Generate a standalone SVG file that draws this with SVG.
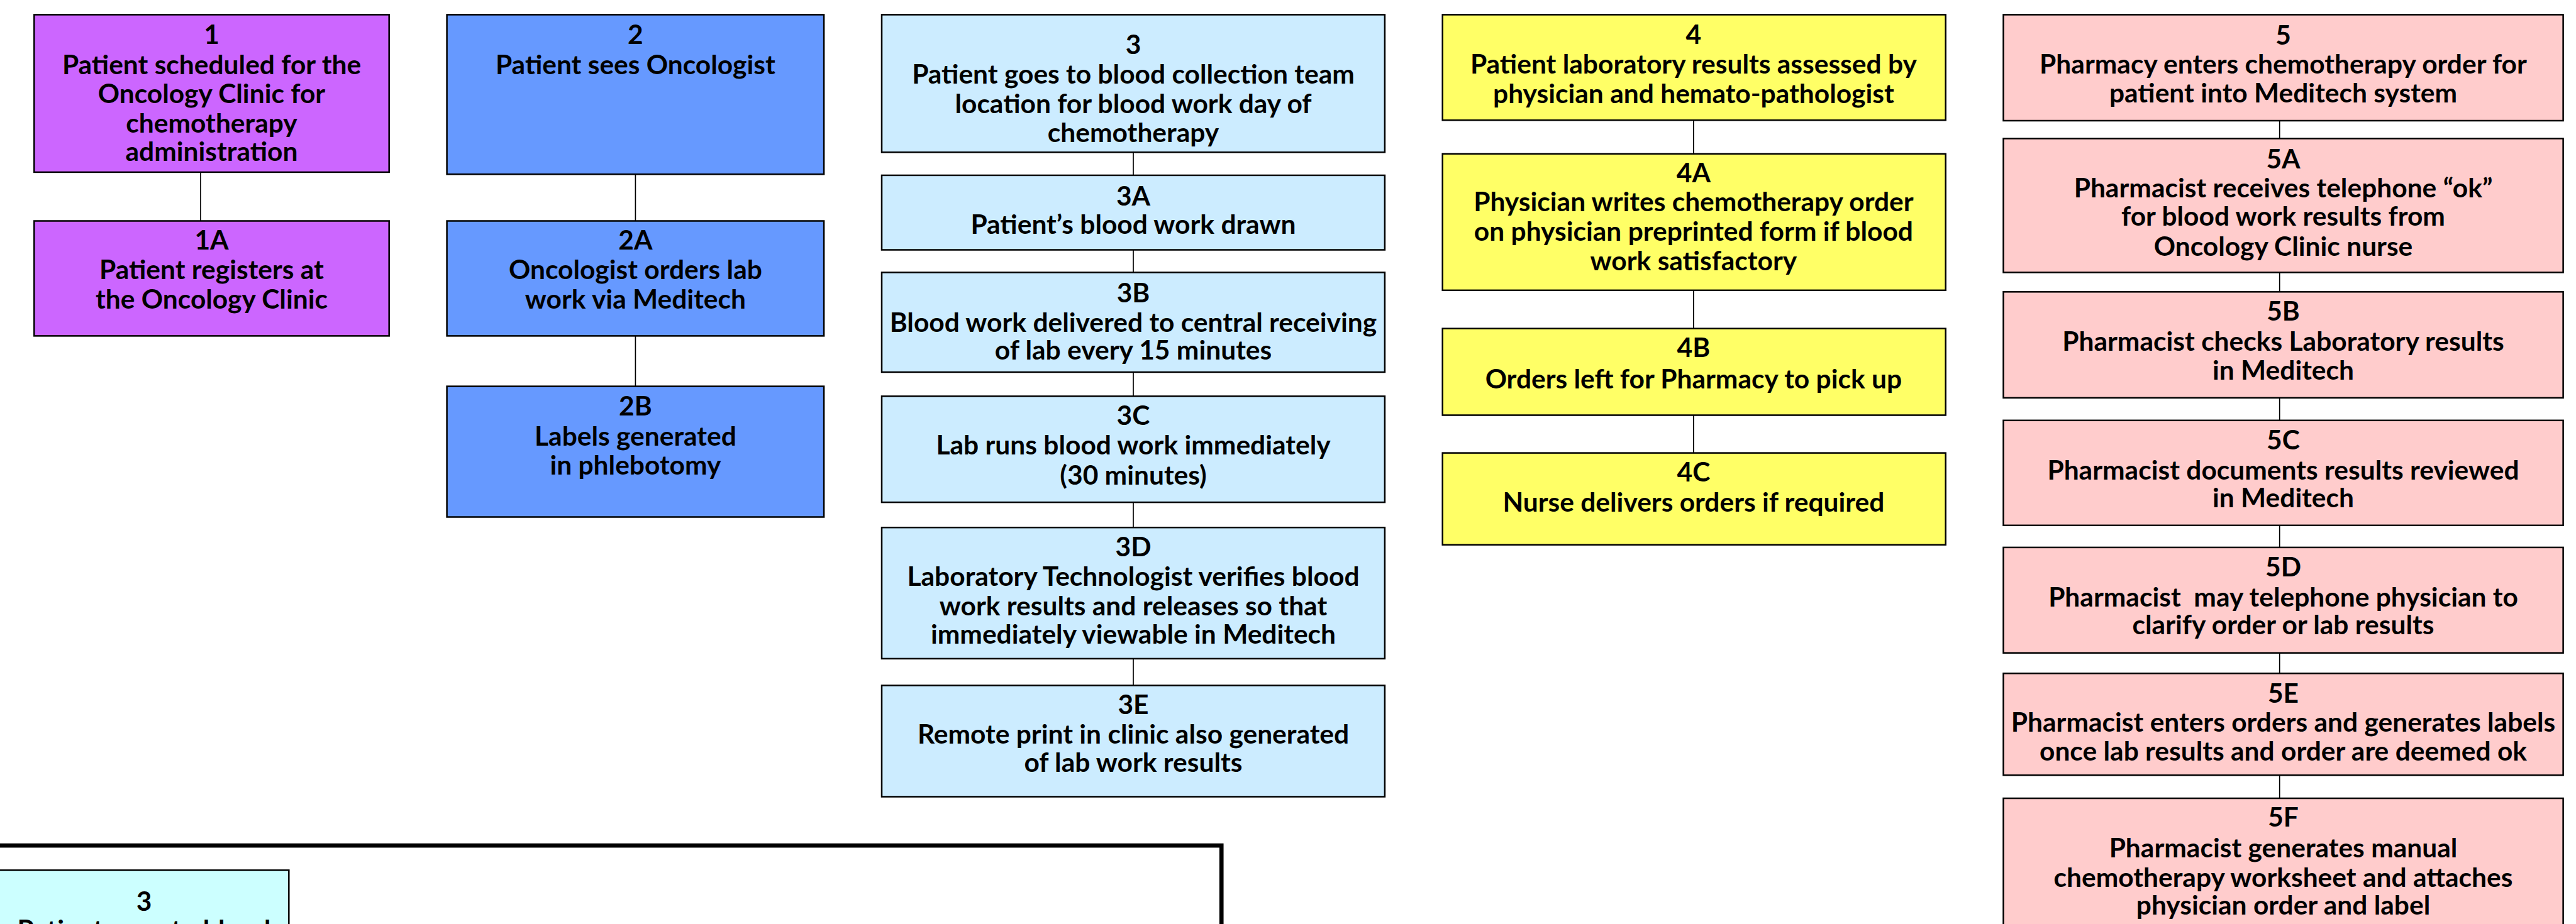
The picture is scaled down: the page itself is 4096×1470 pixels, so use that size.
<svg xmlns="http://www.w3.org/2000/svg" width="4096" height="1470" viewBox="0 0 4096 1470">
<style>
.b{stroke:#000;stroke-width:2.5}
.c1{fill:#CC66FF}.c2{fill:#6699FF}.c3{fill:#CCECFF}.c4{fill:#FFFF66}.c5{fill:#FFCCCC}.c6{fill:#CCFFFF}
text{font-family:Lato,"Open Sans",sans-serif;font-weight:bold;font-size:42.5px;text-anchor:middle;fill:#000}
.ln{stroke:#000;stroke-width:1.7;fill:none}
</style>
<rect width="4096" height="1470" fill="#fff"/>
<g id="connectors">
<line class="ln" x1="319" y1="273.9" x2="319" y2="351.5"/>
<line class="ln" x1="1010.4" y1="277.2" x2="1010.4" y2="351.5"/>
<line class="ln" x1="1010.4" y1="534.4" x2="1010.4" y2="614.6"/>
<line class="ln" x1="1802" y1="242.2" x2="1802" y2="278.9"/>
<line class="ln" x1="1802" y1="397.5" x2="1802" y2="433.4"/>
<line class="ln" x1="1802" y1="592" x2="1802" y2="630.4"/>
<line class="ln" x1="1802" y1="799.1" x2="1802" y2="839.2"/>
<line class="ln" x1="1802" y1="1047.9" x2="1802" y2="1090.5"/>
<line class="ln" x1="2692.9" y1="191.2" x2="2692.9" y2="244.7"/>
<line class="ln" x1="2692.9" y1="461.8" x2="2692.9" y2="522.7"/>
<line class="ln" x1="2692.9" y1="660.5" x2="2692.9" y2="720.6"/>
<line class="ln" x1="3624.7" y1="192" x2="3624.7" y2="220.4"/>
<line class="ln" x1="3624.7" y1="433.4" x2="3624.7" y2="464.3"/>
<line class="ln" x1="3624.7" y1="632.9" x2="3624.7" y2="668.8"/>
<line class="ln" x1="3624.7" y1="835.8" x2="3624.7" y2="870.9"/>
<line class="ln" x1="3624.7" y1="1038.7" x2="3624.7" y2="1071.3"/>
<line class="ln" x1="3624.7" y1="1233.3" x2="3624.7" y2="1270"/>
</g>
<g id="n1"><rect class="b c1" x="54.3" y="23.4" width="564.4" height="250.5"/>
<text x="336.5" y="70">1</text><text x="336.5" y="117.5">Patient scheduled for the</text><text x="336.5" y="163.5">Oncology Clinic for</text><text x="336.5" y="211">chemotherapy</text><text x="336.5" y="256">administration</text></g>
<g id="n1A"><rect class="b c1" x="54.3" y="351.5" width="564.4" height="182.9"/>
<text x="336.5" y="397">1A</text><text x="336.5" y="444">Patient registers at</text><text x="336.5" y="491">the Oncology Clinic</text></g>
<g id="n2"><rect class="b c2" x="710.6" y="23.4" width="599.5" height="253.8"/>
<text x="1010.4" y="70">2</text><text x="1010.4" y="117.5">Patient sees Oncologist</text></g>
<g id="n2A"><rect class="b c2" x="710.6" y="351.5" width="599.5" height="182.9"/>
<text x="1010.4" y="397">2A</text><text x="1010.4" y="444">Oncologist orders lab</text><text x="1010.4" y="491">work via Meditech</text></g>
<g id="n2B"><rect class="b c2" x="710.6" y="614.6" width="599.5" height="207.9"/>
<text x="1010.4" y="661">2B</text><text x="1010.4" y="708.5">Labels generated</text><text x="1010.4" y="754.5">in phlebotomy</text></g>
<g id="n3"><rect class="b c3" x="1402" y="23.4" width="799.9" height="218.8"/>
<text x="1802" y="86">3</text><text x="1802" y="133">Patient goes to blood collection team</text><text x="1802" y="180">location for blood work day of</text><text x="1802" y="226">chemotherapy</text></g>
<g id="n3A"><rect class="b c3" x="1402" y="278.9" width="799.9" height="118.6"/>
<text x="1802" y="327">3A</text><text x="1802" y="372">Patient’s blood work drawn</text></g>
<g id="n3B"><rect class="b c3" x="1402" y="433.4" width="799.9" height="158.6"/>
<text x="1802" y="481">3B</text><text x="1802" y="527.5">Blood work delivered to central receiving</text><text x="1802" y="572">of lab every 15 minutes</text></g>
<g id="n3C"><rect class="b c3" x="1402" y="630.4" width="799.9" height="168.7"/>
<text x="1802" y="676">3C</text><text x="1802" y="723">Lab runs blood work immediately</text><text x="1802" y="770.5">(30 minutes)</text></g>
<g id="n3D"><rect class="b c3" x="1402" y="839.2" width="799.9" height="208.7"/>
<text x="1802" y="885">3D</text><text x="1802" y="931.5">Laboratory Technologist verifies blood</text><text x="1802" y="979">work results and releases so that</text><text x="1802" y="1023.5">immediately viewable in Meditech</text></g>
<g id="n3E"><rect class="b c3" x="1402" y="1090.5" width="799.9" height="177"/>
<text x="1802" y="1136">3E</text><text x="1802" y="1183">Remote print in clinic also generated</text><text x="1802" y="1228">of lab work results</text></g>
<g id="n4"><rect class="b c4" x="2293.7" y="23.4" width="800" height="167.8"/>
<text x="2692.9" y="70">4</text><text x="2692.9" y="116.5">Patient laboratory results assessed by</text><text x="2692.9" y="163.5">physician and hemato-pathologist</text></g>
<g id="n4A"><rect class="b c4" x="2293.7" y="244.7" width="800" height="217.1"/>
<text x="2692.9" y="289.5">4A</text><text x="2692.9" y="336">Physician writes chemotherapy order</text><text x="2692.9" y="383">on physician preprinted form if blood</text><text x="2692.9" y="429.5">work satisfactory</text></g>
<g id="n4B"><rect class="b c4" x="2293.7" y="522.7" width="800" height="137.8"/>
<text x="2692.9" y="567.5">4B</text><text x="2692.9" y="617.5">Orders left for Pharmacy to pick up</text></g>
<g id="n4C"><rect class="b c4" x="2293.7" y="720.6" width="800" height="146.1"/>
<text x="2692.9" y="765.5">4C</text><text x="2692.9" y="814">Nurse delivers orders if required</text></g>
<g id="n5"><rect class="b c5" x="3185.5" y="23.4" width="890.1" height="168.6"/>
<text x="3630.5" y="71">5</text><text x="3630.5" y="116.5">Pharmacy enters chemotherapy order for</text><text x="3630.5" y="162.5">patient into Meditech system</text></g>
<g id="n5A"><rect class="b c5" x="3185.5" y="220.4" width="890.1" height="213"/>
<text x="3630.5" y="268">5A</text><text x="3630.5" y="313.5">Pharmacist receives telephone “ok”</text><text x="3630.5" y="359">for blood work results from</text><text x="3630.5" y="406.5">Oncology Clinic nurse</text></g>
<g id="n5B"><rect class="b c5" x="3185.5" y="464.3" width="890.1" height="168.6"/>
<text x="3630.5" y="510">5B</text><text x="3630.5" y="557.5">Pharmacist checks Laboratory results</text><text x="3630.5" y="603.5">in Meditech</text></g>
<g id="n5C"><rect class="b c5" x="3185.5" y="668.8" width="890.1" height="167"/>
<text x="3630.5" y="714.5">5C</text><text x="3630.5" y="763">Pharmacist documents results reviewed</text><text x="3630.5" y="806.5">in Meditech</text></g>
<g id="n5D"><rect class="b c5" x="3185.5" y="870.9" width="890.1" height="167.8"/>
<text x="3630.5" y="916.5">5D</text><text x="3630.5" y="965" style="white-space:pre">Pharmacist  may telephone physician to</text><text x="3630.5" y="1008.5">clarify order or lab results</text></g>
<g id="n5E"><rect class="b c5" x="3185.5" y="1071.3" width="890.1" height="162"/>
<text x="3630.5" y="1118">5E</text><text x="3630.5" y="1164">Pharmacist enters orders and generates labels</text><text x="3630.5" y="1209.5">once lab results and order are deemed ok</text></g>
<g id="n5F"><rect class="b c5" x="3185.5" y="1270" width="890.1" height="220"/>
<text x="3630.5" y="1315">5F</text><text x="3630.5" y="1363.5">Pharmacist generates manual</text><text x="3630.5" y="1411">chemotherapy worksheet and attaches</text><text x="3630.5" y="1454.5">physician order and label</text></g>
<g id="frame"><path d="M-10 1345.2 H1942.2 V1490" fill="none" stroke="#000" stroke-width="6.7"/></g>
<g id="n3b"><rect class="b c6" x="-5" y="1384.4" width="464.3" height="120"/>
<text x="229" y="1448.5">3</text><text x="229" y="1494">Patient goes to blood</text></g>
</svg>
